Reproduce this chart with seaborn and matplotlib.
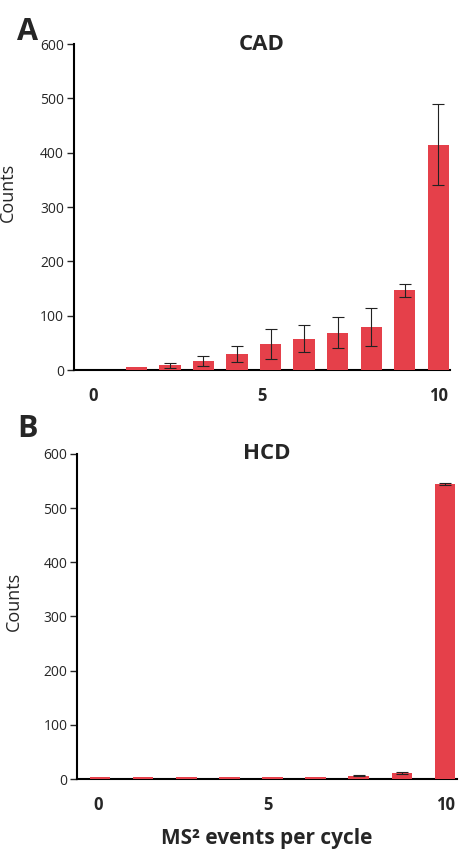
import numpy as np
import pandas as pd
import matplotlib
matplotlib.use("Agg")
import matplotlib.pyplot as plt
import seaborn as sns

# -----------------------------
# DATA
# -----------------------------
cad_events = ["0", "1", "2", "3", "4", "5", "6", "7", "8", "9", "10"]
cad_counts = [0, 6, 9, 17, 30, 48, 58, 69, 79, 147, 415]
cad_err = [0, 0, 4, 9, 15, 28, 25, 28, 35, 12, 74]

hcd_events = ["0", "1", "2", "3", "4", "5", "6", "7", "8"]
hcd_counts = [3, 3, 3, 3, 3, 3, 6, 11, 545]
hcd_err = [0, 0, 0, 0, 0, 0, 1, 1.5, 2]

# the original figure's tick labels sit slightly off the bar centres
cad_tick_pos = [-0.3, 4.75, 10]
hcd_tick_pos = [-0.05, 3.9, 8]
tick_labels = ["0", "5", "10"]

bar_color = "#E5404A"

sns.set_style("ticks")
plt.rcParams["font.family"] = ["Open Sans", "DejaVu Sans"]

fig = plt.figure(figsize=(4.67, 8.63), dpi=100)
ax_a = fig.add_axes([0.158, 0.571, 0.806, 0.378])
ax_b = fig.add_axes([0.165, 0.0973, 0.814, 0.3767])


def draw_panel(ax, events, counts, errs, width, tick_pos, title, xlim, label_xy):
    df = pd.DataFrame({"events": events, "counts": counts})
    sns.barplot(data=df, x="events", y="counts", order=events, color=bar_color,
                saturation=1, width=width, linewidth=0, ax=ax, zorder=3)
    # error bars only where there is a visible spread
    for i, (c, e) in enumerate(zip(counts, errs)):
        if e > 0:
            ax.errorbar(i, c, yerr=e, fmt="none", ecolor="#222222",
                        elinewidth=0.8, capsize=4, capthick=0.8, zorder=4)
    ax.set_ylim(0, 600)
    ax.set_yticks(range(0, 601, 100))
    ax.set_xlim(*xlim)
    ax.set_xticks(tick_pos)
    ax.set_xticklabels(tick_labels, fontsize=12, fontweight="bold")
    ax.tick_params(axis="x", length=0, pad=12)
    ax.tick_params(axis="y", length=5, width=1, labelsize=10, pad=2)
    ax.set_xlabel("")
    ax.set_ylabel("Counts", fontsize=13)
    ax.yaxis.set_label_coords(*label_xy)
    for side in ["top", "right"]:
        ax.spines[side].set_visible(False)
    for side in ["left", "bottom"]:
        ax.spines[side].set_linewidth(1.5)
        ax.spines[side].set_color("black")
    ax.text(0.5, 1.0, title, transform=ax.transAxes, ha="center", va="center",
            fontsize=16, fontweight="bold")


draw_panel(ax_a, cad_events, cad_counts, cad_err, 0.63, cad_tick_pos, "CAD",
           (-0.87, 10.36), (-0.152, 0.546))
draw_panel(ax_b, hcd_events, hcd_counts, hcd_err, 0.48, hcd_tick_pos, "HCD",
           (-0.53, 8.28), (-0.142, 0.545))

ax_b.set_xlabel("MS² events per cycle", fontsize=15, fontweight="bold", labelpad=10)

fig.text(0.036, 0.963, "A", fontsize=22, fontweight="bold", va="center")
fig.text(0.036, 0.503, "B", fontsize=22, fontweight="bold", va="center")

plt.savefig("out.png", dpi=100)
